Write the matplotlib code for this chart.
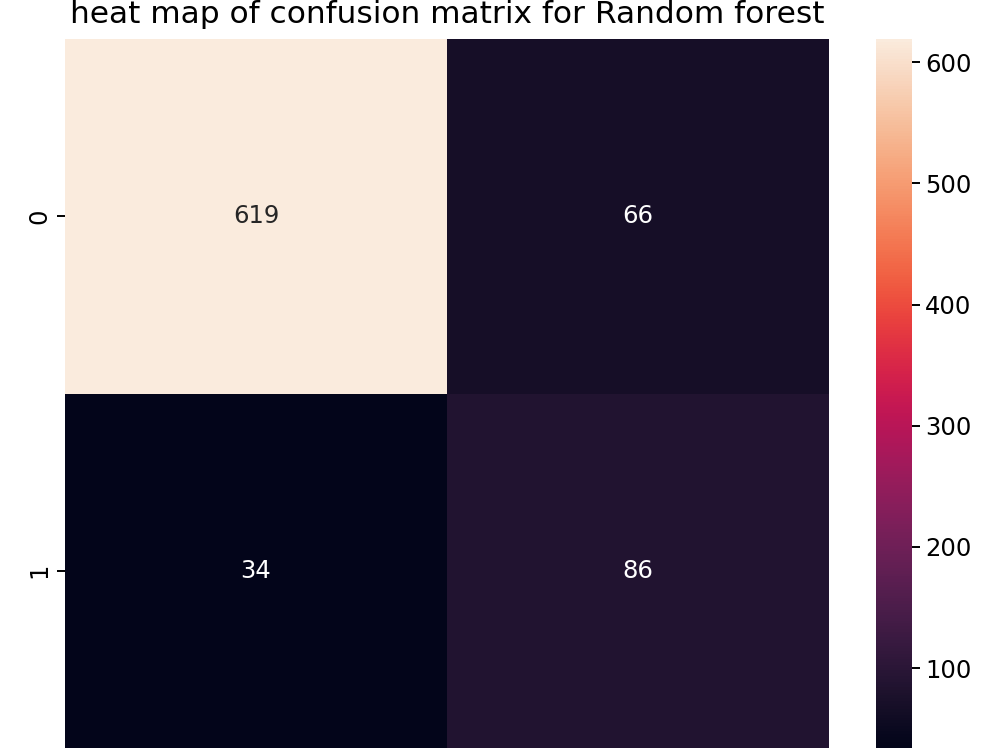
import matplotlib
matplotlib.use("Agg")
import matplotlib.pyplot as plt
import numpy as np
import seaborn as sns

# confusion matrix values
row_labels = ["0", "1"]
row_0 = [619, 66]
row_1 = [34, 86]

cm = np.array([row_0, row_1])

fig = plt.figure(figsize=(10, 7.5), dpi=100)
# heatmap runs past the bottom edge in the reference, so x tick labels are off-canvas
ax = fig.add_axes([0.065, 0.0027, 0.764, 0.945])
cax = fig.add_axes([0.876, 0.0027, 0.036, 0.945])

sns.heatmap(
    cm,
    annot=True,
    fmt="d",
    ax=ax,
    cbar_ax=cax,
    xticklabels=False,
    yticklabels=row_labels,
    annot_kws={"fontsize": 17.5},
)
ax.tick_params(labelsize=17.5, length=6, width=1.4)
ax.set_yticklabels(row_labels, rotation=90, va="center")
cax.tick_params(labelsize=17.5, length=6, width=1.4)
ax.set_title("heat map of confusion matrix for Random forest", fontsize=22.5, pad=11.5)

fig.savefig("out.png", dpi=100)
